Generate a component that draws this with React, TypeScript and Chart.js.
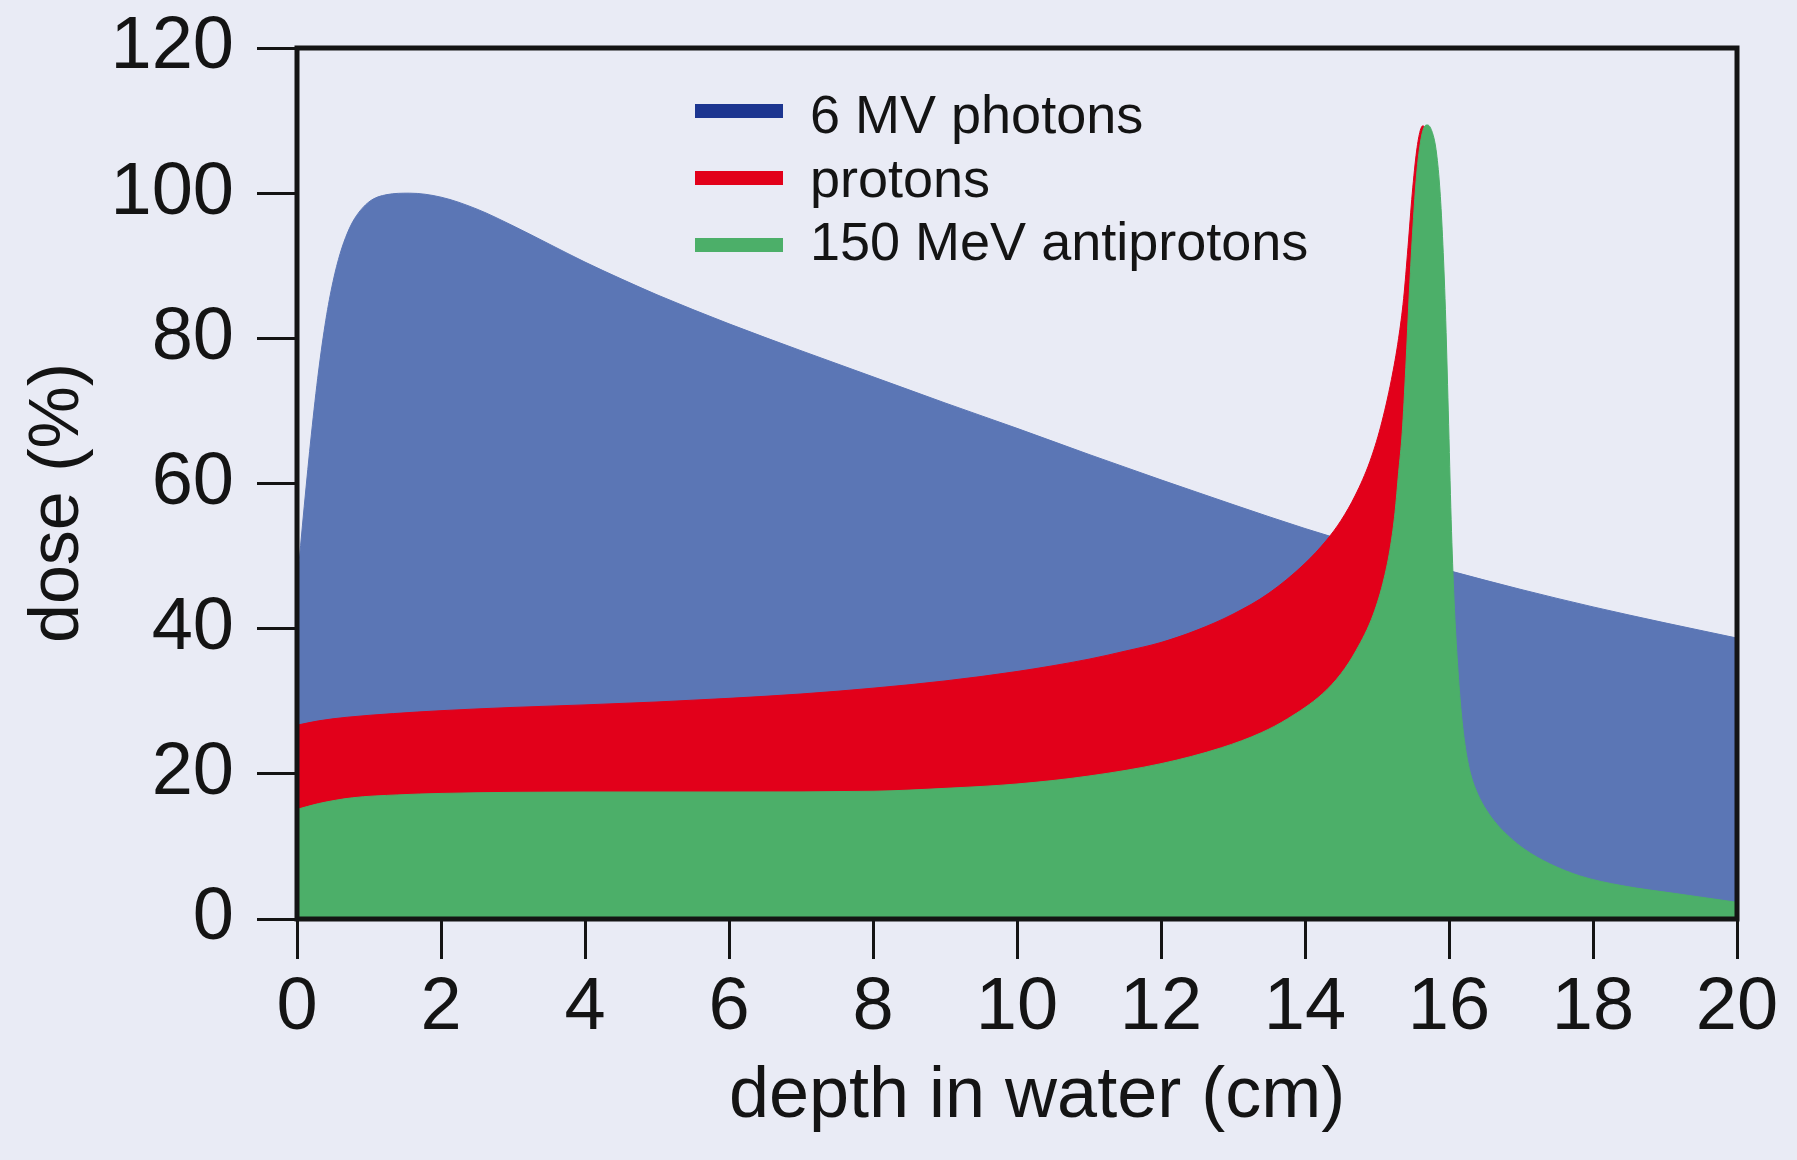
import { useEffect, useRef } from 'react';
import { Chart, registerables } from 'chart.js';

Chart.register(...registerables);

// ---- data ----
const photonDepth = [0, 0.1, 0.2, 0.3, 0.4, 0.5, 0.6, 0.7, 0.8, 1.0, 1.25, 1.56, 2, 2.5, 3, 3.5, 4, 4.5, 5, 6, 7, 8, 9, 10, 11, 12, 13, 14, 15, 16, 17, 18, 19, 20];
const photonDose = [46, 56.8, 66.8, 75.5, 82.5, 87.8, 91.7, 94.5, 96.5, 98.8, 99.8, 100, 99.45, 97.8, 95.5, 93.0, 90.5, 88.2, 86.0, 82.0, 78.3, 74.7, 71.1, 67.6, 64.0, 60.5, 57.1, 53.8, 50.8, 48.0, 45.4, 43.0, 40.8, 38.7];

const protonDepth = [0, 0.3, 0.7, 1.34, 2, 3, 4, 5, 6, 7, 8, 9, 10, 11, 11.5, 12, 12.5, 13, 13.5, 14, 14.3, 14.5, 14.7, 14.9, 15.05, 15.2, 15.3, 15.37, 15.43, 15.49, 15.55, 15.6, 15.64, 15.68, 15.74, 15.8, 15.87, 15.95, 16.05, 16.15, 20];
const protonDose = [26.7, 27.3, 27.8, 28.3, 28.7, 29.15, 29.5, 29.9, 30.4, 31, 31.8, 32.8, 34.1, 35.8, 36.9, 38.1, 39.8, 42.0, 44.9, 49.0, 52.2, 54.9, 58.4, 63.0, 67.8, 74.3, 80.0, 85.5, 92.5, 100, 105.8, 108.6, 109.3, 107.5, 98, 75, 40, 12, 1.5, 0, 0];

const antiprotonDepth = [0, 0.3, 0.77, 1.4, 2, 3, 4, 6, 8, 9, 10, 11, 12, 12.84, 13.4, 13.76, 14.24, 14.5, 14.71, 14.95, 15.1, 15.19, 15.25, 15.3, 15.35, 15.4, 15.45, 15.5, 15.55, 15.6, 15.65, 15.7, 15.76, 15.82, 15.87, 15.91, 15.95, 15.99, 16.03, 16.07, 16.12, 16.17, 16.23, 16.3, 16.4, 16.52, 16.67, 16.85, 17.05, 17.4, 17.83, 18.4, 19.15, 20];
const antiprotonDose = [15.1, 15.9, 16.7, 17.1, 17.3, 17.45, 17.5, 17.5, 17.6, 18, 18.6, 19.7, 21.4, 23.6, 25.7, 27.6, 31, 33.8, 37, 42, 47, 51.5, 56, 61.5, 67, 76, 86.5, 95.5, 102.5, 106.8, 109, 109.4, 108.6, 106, 101, 94, 84, 70, 55, 44, 35, 28.5, 23.5, 20, 17.2, 15, 13, 11.2, 9.6, 7.6, 5.9, 4.6, 3.5, 2.3];

const seriesLabels = ['6 MV photons', 'protons', '150 MeV antiprotons'];
const legendSwatches = ['#1c3590', '#e2001a', '#4caf69'];
const fillColors = ['#5b76b5', '#e2001a', '#4caf69'];

const xTicks = [0, 2, 4, 6, 8, 10, 12, 14, 16, 18, 20];
const yTicks = [0, 20, 40, 60, 80, 100, 120];

const xTitle = 'depth in water (cm)';
const yTitle = 'dose (%)';

const BG = '#e9ebf5';
const INK = '#141414';
const FONT = '"Liberation Sans", Arial, Helvetica, sans-serif';

const toPoints = (xs: number[], ys: number[]) => xs.map((x, i) => ({ x, y: ys[i] }));

const bgPlugin = {
  id: 'bg',
  beforeDraw(chart: any) {
    const { ctx, width, height } = chart;
    ctx.save();
    ctx.fillStyle = BG;
    ctx.fillRect(0, 0, width, height);
    ctx.restore();
  },
};

const framePlugin = {
  id: 'frame',
  afterDatasetsDraw(chart: any) {
    const { ctx, chartArea } = chart;
    ctx.save();
    ctx.strokeStyle = INK;
    ctx.lineWidth = 5;
    ctx.strokeRect(chartArea.left, chartArea.top, chartArea.right - chartArea.left, chartArea.bottom - chartArea.top);
    ctx.restore();
  },
};

const legendPlugin = {
  id: 'sideLegend',
  afterDraw(chart: any) {
    const { ctx, chartArea } = chart;
    const lx = chartArea.left + 398;
    const tx = chartArea.left + 513;
    ctx.save();
    ctx.font = `54px ${FONT}`;
    ctx.textBaseline = 'alphabetic';
    ctx.textAlign = 'left';
    seriesLabels.forEach((label, i) => {
      const cy = chartArea.top + 63 + i * 67;
      ctx.fillStyle = legendSwatches[i];
      ctx.fillRect(lx, cy - 7, 88, 14);
      ctx.fillStyle = INK;
      ctx.fillText(label, tx, chartArea.top + 85 + i * 63.5);
    });
    ctx.restore();
  },
};

export default function App() {
  const canvasRef = useRef<HTMLCanvasElement | null>(null);

  useEffect(() => {
    if (!canvasRef.current) return;
    const series = [
      { d: photonDepth, v: photonDose, order: 3 },
      { d: protonDepth, v: protonDose, order: 2 },
      { d: antiprotonDepth, v: antiprotonDose, order: 1 },
    ];
    const chart = new Chart(canvasRef.current, {
      type: 'line',
      data: {
        datasets: series.map((s, i) => ({
          label: seriesLabels[i],
          data: toPoints(s.d, s.v),
          order: s.order,
          fill: 'origin',
          backgroundColor: fillColors[i],
          borderColor: fillColors[i],
          borderWidth: 1,
          pointRadius: 0,
          cubicInterpolationMode: 'monotone',
        })),
      },
      options: {
        animation: false,
        responsive: false,
        devicePixelRatio: 1,
        events: [],
        layout: { padding: { left: 0, top: 48, right: 60, bottom: 0 } },
        plugins: {
          legend: { display: false },
          tooltip: { enabled: false },
        },
        scales: {
          x: {
            type: 'linear',
            min: 0,
            max: 20,
            afterBuildTicks: (scale: any) => {
              scale.ticks = xTicks.map((value) => ({ value }));
            },
            afterFit: (scale: any) => {
              scale.height = 241;
              scale.paddingLeft = 0;
              scale.paddingRight = 0;
            },
            border: { display: false },
            grid: {
              drawOnChartArea: false,
              drawTicks: true,
              tickLength: 40,
              tickWidth: 3,
              tickColor: INK,
            },
            ticks: {
              autoSkip: false,
              maxRotation: 0,
              padding: 5,
              color: INK,
              font: { family: FONT, size: 74 },
              callback: (v: any) => String(v),
            },
            title: {
              display: true,
              text: '  ' + xTitle,
              color: INK,
              font: { family: FONT, size: 72, lineHeight: 1 },
              padding: { top: 0, bottom: 27 },
            },
          },
          y: {
            type: 'linear',
            min: 0,
            max: 120,
            afterBuildTicks: (scale: any) => {
              scale.ticks = yTicks.map((value) => ({ value }));
            },
            afterFit: (scale: any) => {
              scale.width = 297;
              scale.paddingTop = 0;
              scale.paddingBottom = 0;
            },
            border: { display: false },
            grid: {
              drawOnChartArea: false,
              drawTicks: true,
              tickLength: 40,
              tickWidth: 3,
              tickColor: INK,
            },
            ticks: {
              autoSkip: false,
              padding: 23,
              color: INK,
              font: { family: FONT, size: 74 },
              callback: (v: any) => String(v),
            },
            title: {
              display: true,
              text: yTitle + '  ',
              color: INK,
              font: { family: FONT, size: 70, lineHeight: 1 },
              padding: { top: 24, bottom: 0 },
            },
          },
        },
      } as any,
      plugins: [bgPlugin, framePlugin, legendPlugin],
    });
    return () => chart.destroy();
  }, []);

  return (
    <div style={{ position: 'fixed', left: 0, top: 0, width: 1797, height: 1160, background: BG }}>
      <canvas ref={canvasRef} width={1797} height={1160} style={{ display: 'block', width: 1797, height: 1160 }} />
    </div>
  );
}
